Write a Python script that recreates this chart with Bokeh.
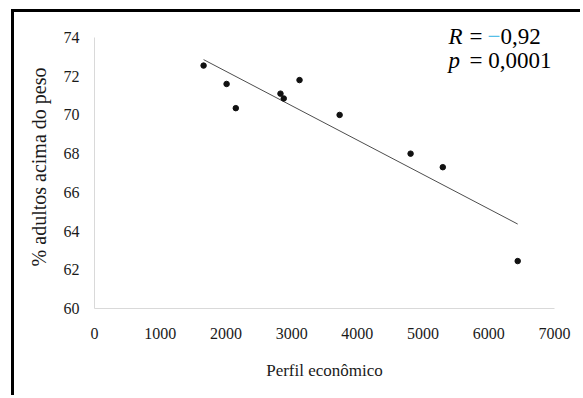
import numpy as np
from bokeh.plotting import figure
from bokeh.models import Range1d, FixedTicker, Label
from bokeh.embed import file_html
from bokeh.resources import INLINE

# ---- data ----
perfil = [1660, 2010, 2150, 2830, 2880, 3120, 3730, 4810, 5300, 6440]
adultos = [72.55, 71.6, 70.35, 71.1, 70.85, 71.8, 70.0, 68.0, 67.3, 62.45]
x_ticks = [0, 1000, 2000, 3000, 4000, 5000, 6000, 7000]
y_ticks = [60, 62, 64, 66, 68, 70, 72, 74]
r_value = "0,92"
r_sign = "\u2212"
p_value = "0,0001"
x_title = "Perfil econômico"
y_title = "% adultos acima do peso"

FONT = "Liberation Serif"

# frame: axis part is 271 px high for 60..74; frame extended a little upward for the text
frame_h = 283
y_end = 60 + 14 * frame_h / 271.0

p = figure(width=569, height=386, output_backend="svg", toolbar_location=None,
           x_range=Range1d(0, 7000), y_range=Range1d(60, y_end),
           min_border_left=80, min_border_right=29, min_border_top=13, min_border_bottom=90)
p.styles = {"margin-left": "11px", "margin-top": "9px",
            "border-left": "3px solid black", "border-top": "3px solid black"}
p.grid.visible = False
p.outline_line_color = None
p.background_fill_color = "white"
p.border_fill_color = "white"

for ax, ticks in ((p.xaxis[0], x_ticks), (p.yaxis[0], y_ticks)):
    ax.ticker = FixedTicker(ticks=ticks)
    ax.axis_line_color = "#d9d9d9"
    ax.axis_line_width = 1
    ax.major_tick_line_color = None
    ax.minor_tick_line_color = None
    ax.major_label_text_font = FONT
    ax.major_label_text_font_size = "16px"
    ax.major_label_text_color = "#1a1a1a"
    ax.axis_label_text_font = FONT
    ax.axis_label_text_font_style = "normal"
    ax.axis_label_text_color = "#1a1a1a"

p.yaxis.bounds = (60, 74)
p.xaxis.major_label_standoff = 13
p.yaxis.major_label_standoff = 9
p.xaxis.axis_label = x_title
p.xaxis.axis_label_text_font_size = "17px"
p.xaxis.axis_label_standoff = 19
p.yaxis.axis_label = y_title
p.yaxis.axis_label_text_font_size = "20px"
p.yaxis.axis_label_standoff = 11

# linear trend (least squares) over the data range
coef = np.polyfit(perfil, adultos, 1)
tx = [min(perfil), max(perfil)]
ty = [coef[0] * v + coef[1] for v in tx]
p.line(tx, ty, line_color="#4d4d4d", line_width=1)

p.scatter(perfil, adultos, size=5.5, fill_color="#111111", line_color="#111111")

# statistics text
tx0 = 5387
ry = 73.74
py = 72.50
common = dict(x=tx0, y_offset=6, text_font=FONT, text_font_size="23px", text_baseline="alphabetic",
              text_color="#000000")
p.add_layout(Label(y=ry, text="R", text_font_style="italic", **common))
p.add_layout(Label(y=ry, text="=", x_offset=21, **common))
c2 = dict(common); c2["text_color"] = "#56bfe8"
p.add_layout(Label(y=ry, text=r_sign, x_offset=39, **c2))
p.add_layout(Label(y=ry, text=r_value, x_offset=52, **common))
p.add_layout(Label(y=py, text="p", text_font_style="italic", **common))
p.add_layout(Label(y=py, text="= " + p_value, x_offset=21, **common))

open("out.html", "w").write(file_html(p, INLINE))
